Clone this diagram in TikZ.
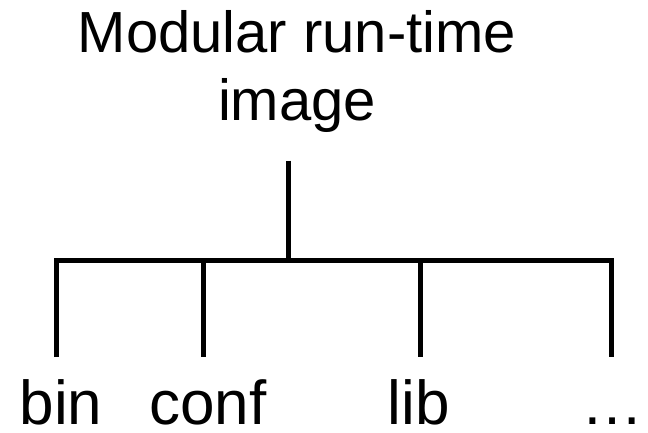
\documentclass[tikz,border=0pt]{standalone}
\usepackage{fontspec}
\setmainfont{Liberation Sans}
\usetikzlibrary{positioning,calc}
\tikzset{
  title/.style={font=\fontsize{58}{68}\selectfont, align=center, inner sep=0pt},
  leaf/.style={font=\fontsize{62}{70}\selectfont, inner sep=0pt, anchor=base},
  branch/.style={line width=5pt, line join=miter},
}

\begin{document}
\begin{tikzpicture}[x=1pt, y=1pt]
  \useasboundingbox (0,0) rectangle (648,432);

  \node[title, anchor=north] (root) at (297,422) {Modular run-time\\image};
  \node[leaf] (bin) at (61,8) {bin};
  \node[leaf] (conf) at (208,8) {conf};
  \node[leaf] (lib) at (419,8) {lib};
  \node[leaf] (more) at (612,8) {\dots};

  \coordinate (stem) at (288.5,271.5);
  \coordinate (busL) at (56.5,171.5);
  \coordinate (busC) at (203.5,171.5);
  \coordinate (busM) at (288.5,171.5);
  \coordinate (busR) at (420,171.5);
  \coordinate (busE) at (611.5,171.5);
  \coordinate (end) at (0,75);

  \draw[branch] (stem) -- (busM);
  \draw[branch] (busL |- end) -- (busL) -- (busE) -- (busE |- end);
  \draw[branch] (busC) -- (busC |- end);
  \draw[branch] (busR) -- (busR |- end);
\end{tikzpicture}
\end{document}
